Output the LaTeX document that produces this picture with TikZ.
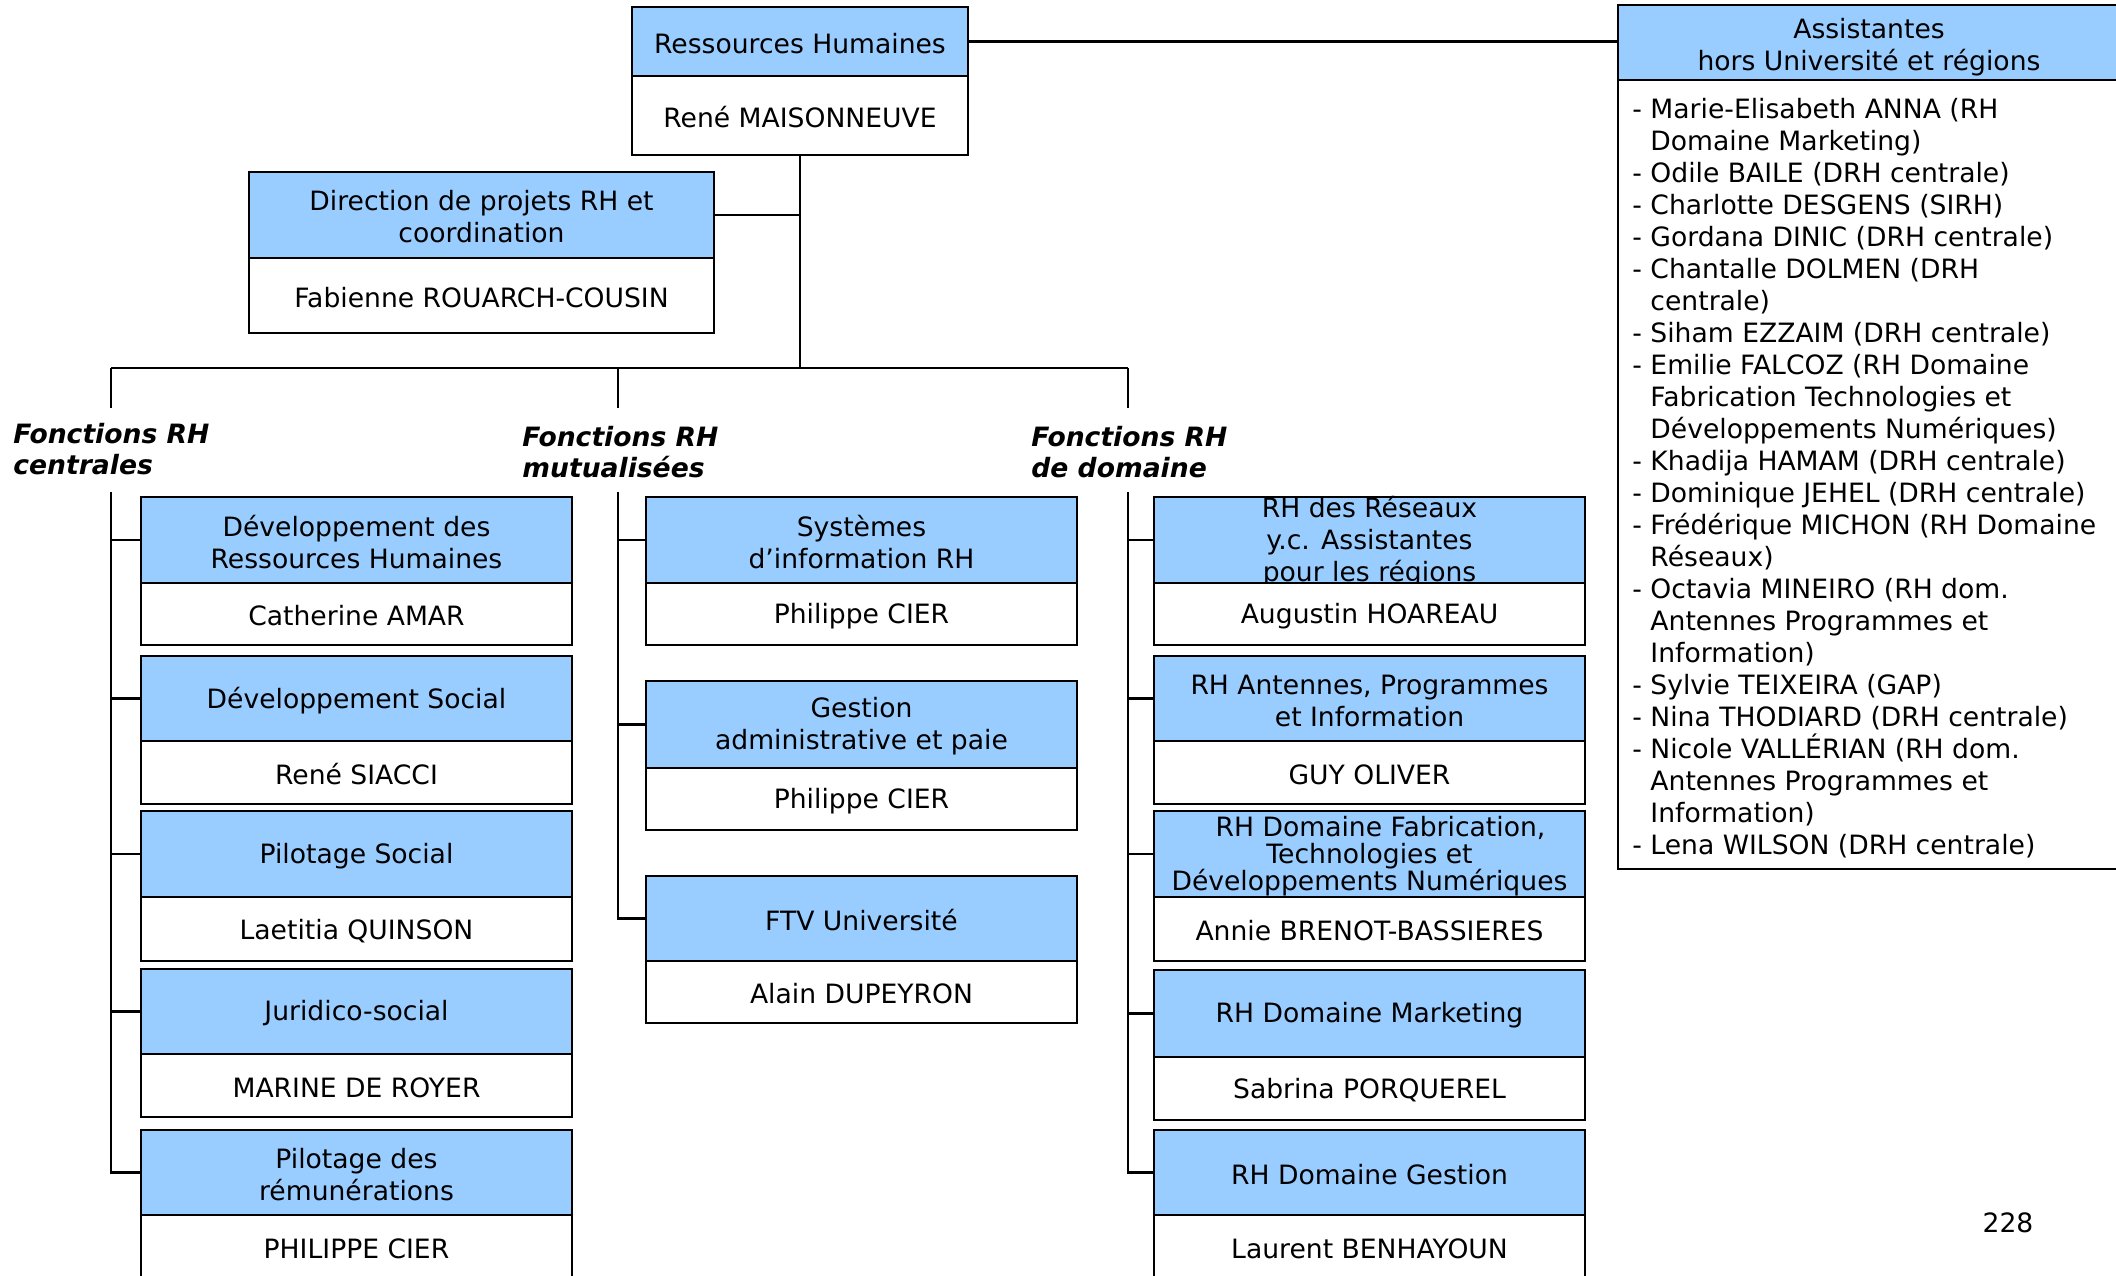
\documentclass[tikz,border=0pt]{standalone}
\usepackage{fontspec}
\setmainfont{DejaVu Sans}
\definecolor{boxblue}{HTML}{99CCFF}
\tikzset{
  titlebox/.style={draw=black, line width=1pt, fill=boxblue, inner sep=0pt, outer sep=0pt},
  personbox/.style={draw=black, line width=1pt, fill=white, inner sep=0pt, outer sep=0pt},
  boxtext/.style={align=center, font=\fontsize{13.3}{16}\selectfont, inner sep=0pt, yshift=-1pt},
  conn/.style={line width=1.2pt, black},
  grouplabel/.style={font=\fontsize{13.3}{15.5}\selectfont\bfseries\itshape, inner sep=0pt},
  listtext/.style={font=\fontsize{13.3}{16}\selectfont, inner sep=0pt},
}
% #1 name, #2 x1, #3 x2, #4 ytop, #5 ymid, #6 ybottom, #7 title, #8 person
\newcommand\orgpair[8]{%
  \node[titlebox, minimum width={(#3-#2)*0.5pt}, minimum height={(#5-#4)*0.5pt}]
    (#1) at ({(#2+#3)/2},{(#4+#5)/2}) {};
  \node[boxtext] (#1-t) at (#1.center) {#7};
  \node[personbox, minimum width={(#3-#2)*0.5pt}, minimum height={(#6-#5)*0.5pt}]
    (#1-p) at ({(#2+#3)/2},{(#5+#6)/2}) {};
  \node[boxtext] (#1-pt) at (#1-p.center) {#8};
}
\newcommand\contind{\hphantom{- }}
\begin{document}
\begin{tikzpicture}[x=0.5pt, y=-0.5pt]
\useasboundingbox (0,0) rectangle (2116,1275);
\clip (0,0) rectangle (2116,1275);
\fill[white] (0,0) rectangle (2116,1275);

% ---------- connector points ----------
\coordinate (busL) at (111,368);
\coordinate (busM) at (618,368);
\coordinate (busR) at (1128,368);
\coordinate (dropL) at (111,408);
\coordinate (dropM) at (618,408);
\coordinate (dropR) at (1128,408);
\coordinate (vL) at (111,492);
\coordinate (vM) at (618,492);
\coordinate (vR) at (1128,492);

% ---------- top ----------
\orgpair{rh}{632}{968}{7}{76}{155}{Ressources Humaines}{René MAISONNEUVE}
\orgpair{dir}{249}{714}{172}{258}{333}{Direction de projets RH et\\coordination}{Fabienne ROUARCH-COUSIN}

% assistants box
\node[titlebox, minimum width={502*0.5pt}, minimum height={75*0.5pt}] (asst) at (1869,42.5) {};
\node[boxtext, yshift=-1.5pt] (asst-t) at (asst.center) {Assistantes\\hors Université et régions};
\node[personbox, minimum width={502*0.5pt}, minimum height={789*0.5pt}] (asst-p) at (1869,474.5) {};
\node[listtext, anchor=base west] (asst-list) at (1632,118) {\parbox[t]{240pt}{\raggedright
- Marie-Elisabeth ANNA (RH\\
\contind Domaine Marketing)\\
- Odile BAILE (DRH centrale)\\
- Charlotte DESGENS (SIRH)\\
- Gordana DINIC (DRH centrale)\\
- Chantalle DOLMEN (DRH\\
\contind centrale)\\
- Siham EZZAIM (DRH centrale)\\
- Emilie FALCOZ (RH Domaine\\
\contind Fabrication Technologies et\\
\contind Développements Numériques)\\
- Khadija HAMAM (DRH centrale)\\
- Dominique JEHEL (DRH centrale)\\
- Frédérique MICHON (RH Domaine\\
\contind Réseaux)\\
- Octavia MINEIRO (RH dom.\\
\contind Antennes Programmes et\\
\contind Information)\\
- Sylvie TEIXEIRA (GAP)\\
- Nina THODIARD (DRH centrale)\\
- Nicole VALLÉRIAN (RH dom.\\
\contind Antennes Programmes et\\
\contind Information)\\
- Lena WILSON (DRH centrale)}};

\draw[conn] (rh.east) -- (rh.east -| asst.west);
\draw[conn] (rh-p.south) -- (rh-p.south |- busL);
\draw[conn] (dir.east) -- (dir.east -| rh-p.south);
\draw[conn] (busL) -- (busR);
\draw[conn] (busL) -- (dropL);
\draw[conn] (busM) -- (dropM);
\draw[conn] (busR) -- (dropR);

% ---------- group labels ----------
\node[grouplabel, anchor=base west] (gl-c) at (13,443) {\parbox[t]{150pt}{Fonctions RH\\centrales}};
\node[grouplabel, anchor=base west] (gl-m) at (522,446) {\parbox[t]{150pt}{Fonctions RH\\mutualisées}};
\node[grouplabel, anchor=base west] (gl-d) at (1031,446) {\parbox[t]{150pt}{Fonctions RH\\de domaine}};

% ---------- left column ----------
\orgpair{dev}{141}{572}{497}{583}{645}{Développement des\\Ressources Humaines}{Catherine AMAR}
\orgpair{devsoc}{141}{572}{656}{741}{804}{Développement Social}{René SIACCI}
\orgpair{pilsoc}{141}{572}{811}{897}{961}{Pilotage Social}{Laetitia QUINSON}
\orgpair{jur}{141}{572}{969}{1054}{1117}{Juridico-social}{MARINE DE ROYER}
\orgpair{pilrem}{141}{572}{1130}{1215}{1278}{Pilotage des\\rémunérations}{PHILIPPE CIER}

% ---------- middle column ----------
\orgpair{sirh}{646}{1077}{497}{583}{645}{Systèmes\\d’information RH}{Philippe CIER}
\orgpair{gap}{646}{1077}{681}{768}{830}{Gestion\\administrative et paie}{Philippe CIER}
\orgpair{ftv}{646}{1077}{876}{961}{1023}{FTV Université}{Alain DUPEYRON}

% ---------- right column ----------
\node[titlebox, minimum width={431*0.5pt}, minimum height={86*0.5pt}] (res) at (1369.5,540) {};
\node[boxtext] (res-t) at (res.center) {RH des Réseaux\\y.c. Assistantes\\pour les régions};
\node[personbox, minimum width={431*0.5pt}, minimum height={62*0.5pt}] (res-p) at (1369.5,614) {};
\node[boxtext] (res-pt) at (res-p.center) {Augustin HOAREAU};
\orgpair{ant}{1154}{1585}{656}{741}{804}{RH Antennes, Programmes\\et Information}{GUY OLIVER}
\orgpair{fab}{1154}{1585}{811}{897}{961}{\hspace*{11pt}RH Domaine Fabrication,\\[-2.5pt]Technologies et\\[-2.5pt]Développements Numériques}{Annie BRENOT-BASSIERES}
\orgpair{mkt}{1154}{1585}{970}{1057}{1120}{RH Domaine Marketing}{Sabrina PORQUEREL}
\orgpair{gest}{1154}{1585}{1130}{1215}{1278}{RH Domaine Gestion}{Laurent BENHAYOUN}

% ---------- column verticals and ticks ----------
\draw[conn] (vL) |- (pilrem.west);
\foreach \n in {dev,devsoc,pilsoc,jur} \draw[conn] (vL |- \n.west) -- (\n.west);
\draw[conn] (vM) |- (ftv.west);
\foreach \n in {sirh,gap} \draw[conn] (vM |- \n.west) -- (\n.west);
\draw[conn] (vR) |- (gest.west);
\foreach \n in {res,ant,fab,mkt} \draw[conn] (vR |- \n.west) -- (\n.west);

% page number
\node[boxtext, yshift=1pt] (pagenum) at (2008,1223) {228};
\end{tikzpicture}
\end{document}
